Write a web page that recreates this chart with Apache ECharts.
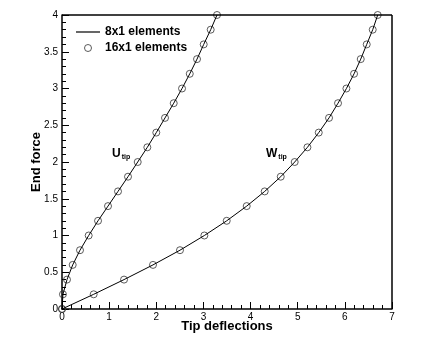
<!DOCTYPE html>
<html>
<head>
<meta charset="utf-8">
<script src="https://cdn.jsdelivr.net/npm/echarts@6/dist/echarts.min.js"></script>
<style>
  html, body { margin: 0; padding: 0; background: #fff; }
  #main { width: 423px; height: 353px; }
</style>
</head>
<body>
<div id="main"></div>
<script>
// end force levels (same for both curves)
var forces = [0, 0.2, 0.4, 0.6, 0.8, 1.0, 1.2, 1.4, 1.6, 1.8, 2.0, 2.2, 2.4, 2.6, 2.8, 3.0, 3.2, 3.4, 3.6, 3.8, 4.0];
// tip deflections
var uTip = [0, 0.02, 0.106, 0.227, 0.382, 0.566, 0.764, 0.976, 1.188, 1.40, 1.606, 1.81, 2.00, 2.185, 2.37, 2.546, 2.71, 2.864, 3.006, 3.154, 3.288];
var wTip = [0, 0.672, 1.316, 1.93, 2.503, 3.02, 3.494, 3.918, 4.30, 4.64, 4.936, 5.206, 5.446, 5.664, 5.855, 6.033, 6.195, 6.337, 6.464, 6.591, 6.697];

var lineName = '8x1 elements';
var markName = '16x1 elements';

function pairs(xs) {
  return xs.map(function (x, i) { return [x, forces[i]]; });
}

var chart = echarts.init(document.getElementById('main'));

var font = 'Liberation Sans, Arial, sans-serif';

var option = {
  animation: false,
  backgroundColor: '#fff',
  grid: { left: 62, right: 31, top: 15, bottom: 44 },
  legend: {
    orient: 'vertical',
    left: 71,
    top: 21,
    itemGap: 4,
    itemWidth: 24,
    itemHeight: 7,
    symbolKeepAspect: true,
    textStyle: { fontFamily: font, fontWeight: 'bold', fontSize: 12, color: '#000' },
    data: [
      { name: lineName, icon: 'path://M0,0h24v1.2h-24z', itemStyle: { color: '#000', borderWidth: 0 } },
      { name: markName, icon: 'circle', itemStyle: { color: '#fff', borderColor: '#333', borderWidth: 1 } }
    ]
  },
  xAxis: {
    type: 'value',
    min: 0, max: 7, interval: 1,
    name: 'Tip deflections',
    nameLocation: 'middle',
    nameGap: 11,
    nameMoveOverlap: false,
    nameTextStyle: { fontFamily: font, fontWeight: 'bold', fontSize: 13, color: '#000' },
    axisLine: { show: true, lineStyle: { color: '#000', width: 1.5 } },
    axisTick: { show: true, inside: true, length: 7, lineStyle: { color: '#000' } },
    minorTick: { show: true, splitNumber: 5, length: 4, lineStyle: { color: '#000' } },
    axisLabel: { fontFamily: font, fontSize: 10, color: '#000', margin: 3 },
    splitLine: { show: false }
  },
  yAxis: {
    type: 'value',
    min: 0, max: 4, interval: 0.5,
    name: 'End force',
    nameLocation: 'middle',
    nameGap: 19,
    nameMoveOverlap: false,
    nameTextStyle: { fontFamily: font, fontWeight: 'bold', fontSize: 13, color: '#000' },
    axisLine: { show: true, lineStyle: { color: '#000', width: 1.5 } },
    axisTick: { show: true, inside: true, length: 7, lineStyle: { color: '#000' } },
    minorTick: { show: true, splitNumber: 5, length: 4, lineStyle: { color: '#000' } },
    axisLabel: { fontFamily: font, fontSize: 10, color: '#000', margin: 4 },
    splitLine: { show: false }
  },
  series: [
    {
      name: lineName, type: 'line', data: pairs(uTip),
      symbol: 'none', lineStyle: { color: '#000', width: 1 }, itemStyle: { color: '#000' }
    },
    {
      name: lineName, type: 'line', data: pairs(wTip),
      symbol: 'none', lineStyle: { color: '#000', width: 1 }, itemStyle: { color: '#000' }
    },
    {
      name: markName, type: 'scatter', data: pairs(uTip),
      symbol: 'circle', symbolSize: 7,
      itemStyle: { color: 'rgba(255,255,255,0)', borderColor: '#333', borderWidth: 1 }
    },
    {
      name: markName, type: 'scatter', data: pairs(wTip),
      symbol: 'circle', symbolSize: 7,
      itemStyle: { color: 'rgba(255,255,255,0)', borderColor: '#333', borderWidth: 1 }
    },
    {
      // frame on top and right
      type: 'line', silent: true, symbol: 'none', data: [],
      markLine: {
        silent: true, symbol: 'none',
        lineStyle: { color: '#000', width: 1.5, type: 'solid' },
        label: { show: false },
        data: [
          [{ coord: [0, 4] }, { coord: [7, 4] }],
          [{ coord: [7, 0] }, { coord: [7, 4] }]
        ]
      }
    }
  ],
  graphic: [
    {
      type: 'text', left: 112, top: 148,
      style: {
        text: '{a|U}{b|tip}',
        rich: {
          a: { fontFamily: font, fontWeight: 'bold', fontSize: 12, fill: '#000' },
          b: { fontFamily: font, fontWeight: 'bold', fontSize: 7, fill: '#000', padding: [6, 0, 0, 1] }
        }
      }
    },
    {
      type: 'text', left: 266, top: 148,
      style: {
        text: '{a|W}{b|tip}',
        rich: {
          a: { fontFamily: font, fontWeight: 'bold', fontSize: 12, fill: '#000' },
          b: { fontFamily: font, fontWeight: 'bold', fontSize: 7, fill: '#000', padding: [6, 0, 0, 1] }
        }
      }
    }
  ]
};

chart.setOption(option);
</script>
</body>
</html>
